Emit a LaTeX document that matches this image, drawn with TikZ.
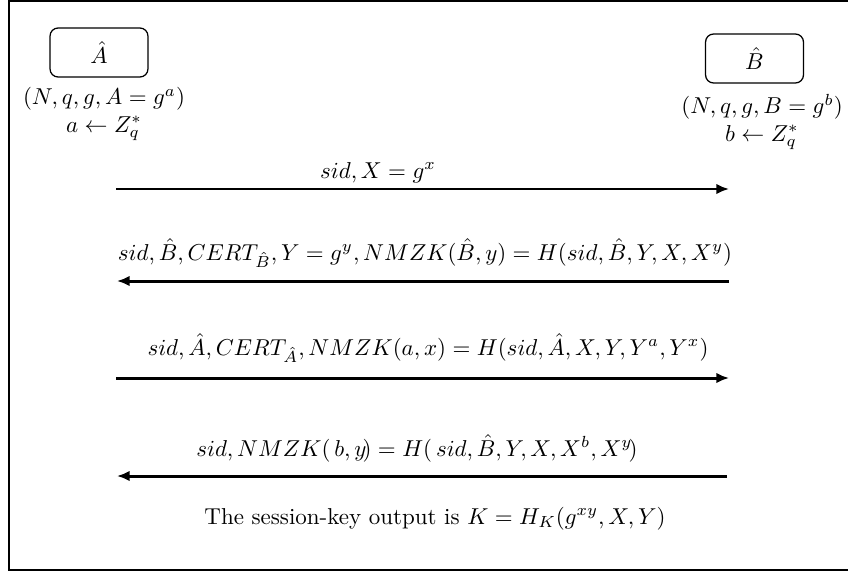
\documentclass[tikz,border=0pt]{standalone}
\usetikzlibrary{arrows.meta}
\begin{document}
\begin{tikzpicture}[x=0.435pt,y=-0.435pt,
  party/.style={draw,rounded corners=3.5pt,line width=0.55pt,minimum width=42.6pt,minimum height=21.3pt,inner sep=0pt},
  msg/.style={line width=1.3pt,-{Latex[length=5.5pt,width=4.6pt]}},
  lbl/.style={inner sep=0pt,anchor=base}]
\useasboundingbox (0,0) rectangle (848,572);
\draw[line width=0.85pt] (852,1) -- (9,1) -- (9,570) -- (852,570);
\node[party] (A) at (99,52.5) {$\hat{A}$};
\node[party] (B) at (754.5,58.5) {$\hat{B}$};
\node[inner sep=0pt,align=center] (Ap) at (104,114) {$(N,q,g,A=g^{a})$\\$a\leftarrow Z_q^{*}$};
\node[inner sep=0pt,align=center] (Bp) at (762,122) {$(N,q,g,B=g^{b})$\\$b\leftarrow Z_q^{*}$};
\coordinate (a1) at (116,189); \coordinate (b1) at (729,189);
\coordinate (a2) at (117,281); \coordinate (b2) at (729,281);
\coordinate (a3) at (116,378); \coordinate (b3) at (729,378);
\coordinate (a4) at (117,476); \coordinate (b4) at (727,476);
\draw[msg] (a1) -- (b1);
\draw[msg] (b2) -- (a2);
\draw[msg] (a3) -- (b3);
\draw[msg] (b4) -- (a4);
\node[lbl] (m1) at (378,178) {$sid, X=g^{x}$};
\node[lbl] (m2) at (425,260) {$sid,\hat{B},CERT_{\hat{B}},Y=g^{y},NMZK(\hat{B},y)=H(sid,\hat{B},Y,X,X^{y})$};
\node[lbl] (m3) at (428,355) {$sid,\hat{A},CERT_{\hat{A}},NMZK(a,x)=H(sid,\hat{A},X,Y,Y^{a},Y^{x})$};
\node[lbl] (m4) at (417,456) {$sid,NMZK(\,b,y\!)=H(\,sid,\hat{B},Y,X,X^{b},X^{y}\!)$};
\node[lbl] (k) at (435,524) {The session-key output is $K=H_K(g^{xy},X,Y)$};
\end{tikzpicture}
\end{document}
